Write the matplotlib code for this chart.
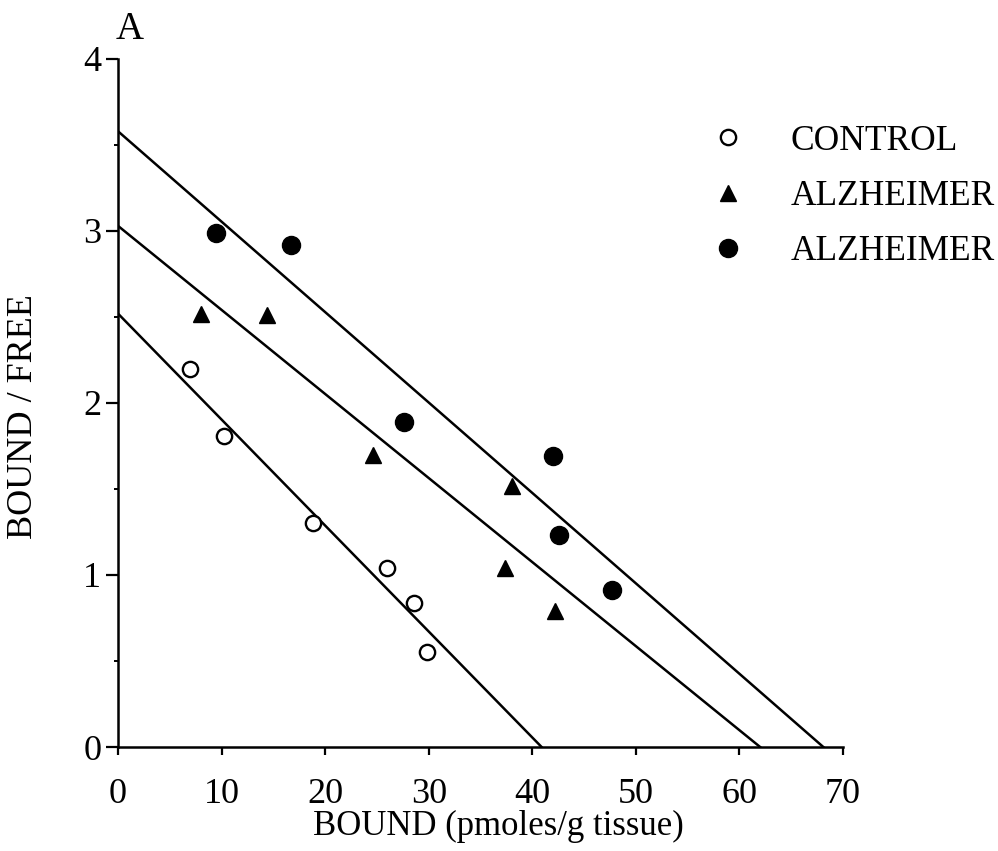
import numpy as np
import matplotlib
matplotlib.use('Agg')
from matplotlib import pyplot as plt
from matplotlib.ticker import MultipleLocator

plt.rcParams['font.family'] = ['Liberation Serif', 'DejaVu Serif']

# Scatchard data: bound (pmoles/g tissue) vs bound/free.
control_x = [7.0, 10.2, 18.8, 26.0, 28.6, 29.8]
control_y = [2.20, 1.81, 1.30, 1.04, 0.84, 0.55]

alz_tri_x = [8.0, 14.4, 24.6, 38.0, 37.4, 42.2]
alz_tri_y = [2.52, 2.51, 1.70, 1.52, 1.04, 0.79]

alz_dot_x = [9.5, 16.7, 27.6, 42.0, 42.6, 47.7]
alz_dot_y = [2.99, 2.92, 1.89, 1.69, 1.23, 0.91]

# Fitted regression lines: (y intercept, x intercept).
fit_control = (2.52, 40.9)
fit_alz_tri = (3.03, 62.0)
fit_alz_dot = (3.58, 68.1)

fig = plt.figure(figsize=(9.98, 8.51), dpi=100)
ax = fig.add_axes([0.1182, 0.1222, 0.7265, 0.8085])

for b, xi in (fit_control, fit_alz_tri, fit_alz_dot):
    ax.plot([0, xi], [b, 0], color='black', lw=1.8, zorder=2)

ax.plot(control_x, control_y, 'o', ms=11, mfc='white', mec='black', mew=1.7,
        label='CONTROL', zorder=3)
ax.plot(alz_tri_x, alz_tri_y, '^', ms=12, color='black', label='ALZHEIMER', zorder=3)
ax.plot(alz_dot_x, alz_dot_y, 'o', ms=13, color='black', label='ALZHEIMER', zorder=3)

ax.set_xlim(0, 70)
ax.set_ylim(0, 4)
ax.spines['top'].set_visible(False)
ax.spines['right'].set_visible(False)
for s in ('left', 'bottom'):
    ax.spines[s].set_linewidth(1.8)

ax.xaxis.set_major_locator(MultipleLocator(10))
ax.yaxis.set_major_locator(MultipleLocator(1))
ax.yaxis.set_minor_locator(MultipleLocator(0.5))
ax.tick_params(axis='x', which='major', direction='out', length=6, width=1.6,
               labelsize=26, pad=16)
ax.tick_params(axis='y', which='major', direction='out', length=9, width=1.6,
               labelsize=26, pad=3)
ax.tick_params(axis='y', which='minor', direction='out', length=3, width=1.4)

ax.set_xlabel('BOUND (pmoles/g tissue)', fontsize=25)
ax.xaxis.set_label_coords(0.524, -0.092)
ax.set_ylabel('BOUND / FREE', fontsize=26)
ax.yaxis.set_label_coords(-0.108, 0.48)

ax.legend(loc='upper left', bbox_to_anchor=(0.7117, 0.8535), bbox_transform=fig.transFigure,
          frameon=False, fontsize=25.5, handlelength=1.0, handletextpad=1.26,
          labelspacing=0.63, borderpad=0, borderaxespad=0)

fig.text(0.13, 0.9545, 'A', fontsize=28, ha='center', va='baseline')

fig.savefig('out.png', dpi=100)
